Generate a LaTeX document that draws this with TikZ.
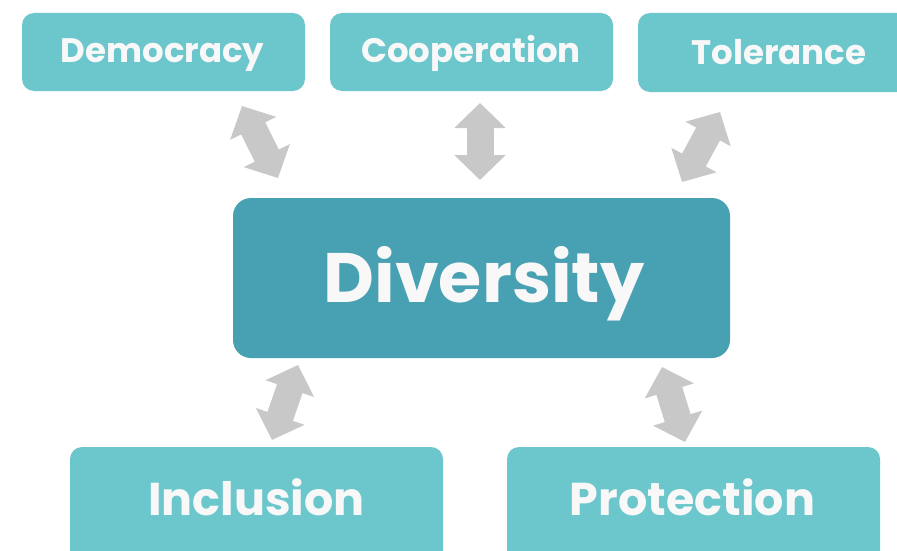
\documentclass[tikz,border=0pt]{standalone}
\usepackage{fontspec}
\setmainfont{Poppins}[BoldFont={* Bold}]
\usetikzlibrary{arrows.meta}
\definecolor{lightteal}{RGB}{108,199,204}
\definecolor{darkteal}{RGB}{72,160,179}
\definecolor{arrowgray}{RGB}{200,200,200}
\definecolor{txtwhite}{RGB}{248,248,248}
\begin{document}
\begin{tikzpicture}[x=1pt,y=-1pt,
  box/.style={fill=lightteal, rounded corners=12pt},
  bigbox/.style={fill=darkteal, rounded corners=18pt},
  smalltxt/.style={text=txtwhite, anchor=base, inner sep=0pt, font=\fontsize{34}{40}\selectfont\bfseries},
  midtxt/.style={text=txtwhite, anchor=base, inner sep=0pt, font=\fontsize{46}{54}\selectfont\bfseries},
  bigtxt/.style={text=txtwhite, anchor=base, inner sep=0pt, font=\fontsize{70}{82}\selectfont\bfseries},
  link/.style={draw=arrowgray, line width=27pt,
     {Triangle[width=50pt,length=25pt]}-{Triangle[width=50pt,length=25pt]}}]
\useasboundingbox (0,0) rectangle (897,551);
\clip (0,0) rectangle (897,551);
\fill[white] (0,0) rectangle (897,551);
% top boxes
\path[box] (22,13) rectangle (305,91);
\node[smalltxt] (dem) at (162.5,63) {Democracy};
\path[box] (330,13) rectangle (613,91);
\node[smalltxt] (coop) at (471,63) {Cooperation};
\path[box] (638,13) rectangle (921,92);
\node[smalltxt] (tol) at (779,64) {Tolerance};
% center
\path[bigbox] (233,198) rectangle (730,358);
\node[bigtxt] (div) at (484,302) {Diversity};
% bottom boxes
\path[box] (70,447) rectangle (443,600);
\node[midtxt] (inc) at (256.5,515) {Inclusion};
\path[box] (507,447) rectangle (880,600);
\node[midtxt] (pro) at (692.5,515) {Protection};
% arrow ends
\coordinate (a1) at (242,106); \coordinate (b1) at (278,178);
\coordinate (a2) at (480,103); \coordinate (b2) at (480,180);
\coordinate (a3) at (720,112); \coordinate (b3) at (682,182);
\coordinate (a4) at (298,365); \coordinate (b4) at (272,440);
\coordinate (a5) at (662,367); \coordinate (b5) at (685,442);
\draw[link] (a1) -- (b1);
\draw[link] (a2) -- (b2);
\draw[link] (a3) -- (b3);
\draw[link] (a4) -- (b4);
\draw[link] (a5) -- (b5);
\end{tikzpicture}
\end{document}
